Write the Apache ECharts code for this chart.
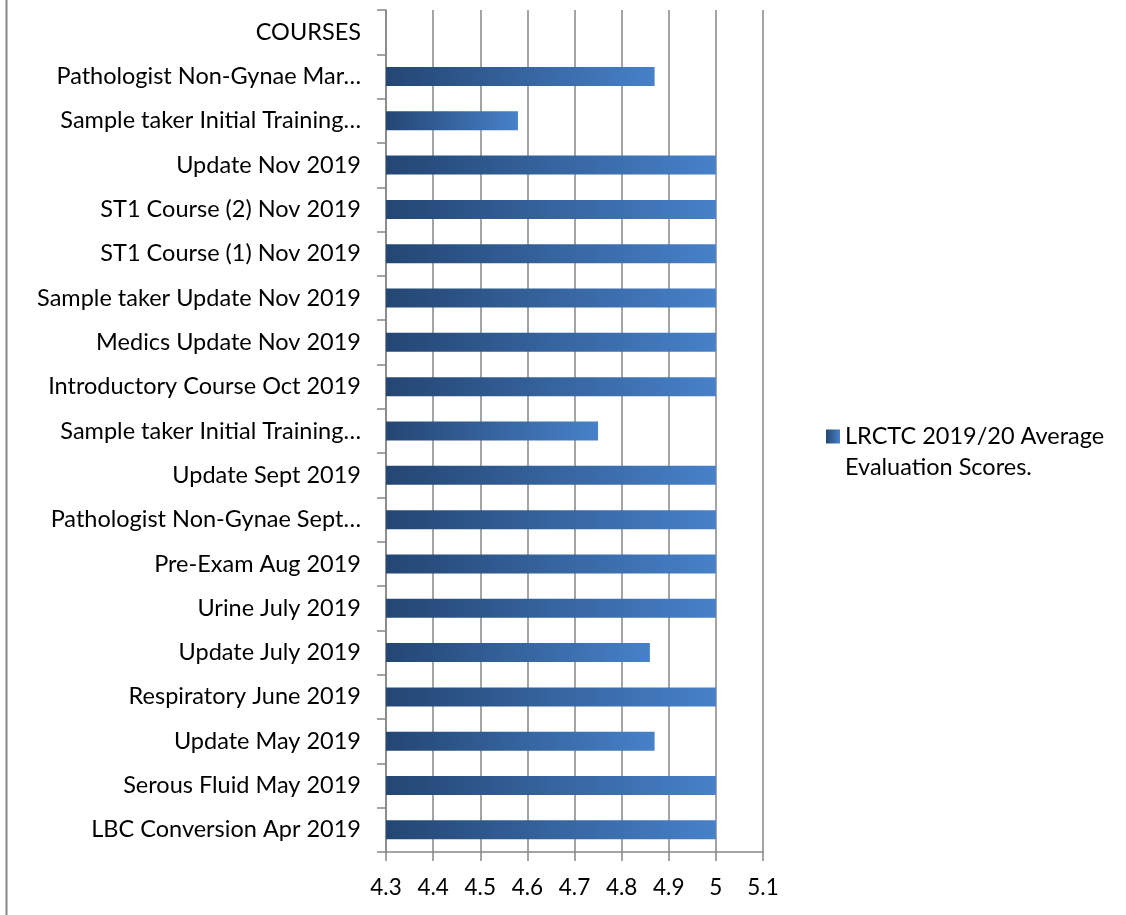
<!DOCTYPE html>
<html>
<head>
<meta charset="utf-8">
<script src="https://cdn.jsdelivr.net/npm/echarts@6/dist/echarts.min.js"></script>
<style>
html,body{margin:0;padding:0;background:#fff;}
#chart{width:1126px;height:915px;}
</style>
</head>
<body>
<div id="chart"></div>
<script>
const categories = [
  "LBC Conversion Apr 2019",
  "Serous Fluid May 2019",
  "Update May 2019",
  "Respiratory June 2019",
  "Update July 2019",
  "Urine July 2019",
  "Pre-Exam Aug 2019",
  "Pathologist Non-Gynae Sept…",
  "Update Sept 2019",
  "Sample taker Initial Training…",
  "Introductory Course Oct 2019",
  "Medics Update Nov 2019",
  "Sample taker Update Nov 2019",
  "ST1 Course (1) Nov 2019",
  "ST1 Course (2) Nov 2019",
  "Update Nov 2019",
  "Sample taker Initial Training…",
  "Pathologist Non-Gynae Mar…",
  "COURSES"
];
const scores = [5, 5, 4.87, 5, 4.86, 5, 5, 5, 5, 4.75, 5, 5, 5, 5, 5, 5, 4.58, 4.87, null];
const xTicks = [4.3, 4.4, 4.5, 4.6, 4.7, 4.8, 4.9, 5, 5.1];
const seriesName = "LRCTC 2019/20 Average Evaluation Scores.";
const legendLines = ["LRCTC 2019/20 Average", "Evaluation Scores."];

const chart = echarts.init(document.getElementById('chart'));
const FONT = 'Lato';
const grad = new echarts.graphic.LinearGradient(0, 0, 1, 0, [
  {offset: 0, color: '#244673'},
  {offset: 1, color: '#4781c9'}
]);
chart.setOption({
  animation: false,
  backgroundColor: '#fff',
  textStyle: {fontFamily: FONT},
  grid: {left: 386, right: 363, top: 10, bottom: 63, containLabel: false},
  legend: {
    left: 826, top: 390,
    padding: 0,
    orient: 'vertical',
    itemWidth: 14, itemHeight: 14,
    itemGap: 0,
    icon: 'rect',
    formatter: function () { return '\n' + legendLines.join('\n'); },
    textStyle: {fontSize: 23.5, color: '#000', fontFamily: FONT, lineHeight: 31},
    data: [seriesName]
  },
  xAxis: {
    type: 'value',
    min: xTicks[0], max: xTicks[xTicks.length - 1], interval: 0.1,
    axisLine: {show: true, lineStyle: {color: '#868686', width: 1.5}},
    axisTick: {show: true, length: 9, lineStyle: {color: '#868686', width: 1.5}},
    splitLine: {show: true, lineStyle: {color: '#868686', width: 1.5}},
    axisLabel: {
      fontSize: 22.5, color: '#000', margin: 24, fontFamily: FONT,
      formatter: function (v) { return String(Math.round(v * 10) / 10); }
    }
  },
  yAxis: {
    type: 'category',
    data: categories,
    axisLine: {show: true, lineStyle: {color: '#868686', width: 1.5}},
    axisTick: {show: true, length: 9, lineStyle: {color: '#868686', width: 1.5}},
    axisLabel: {fontSize: 23.5, color: '#000', margin: 25, fontFamily: FONT}
  },
  graphic: [{
    type: 'line', shape: {x1: 6.5, y1: 0, x2: 6.5, y2: 915},
    style: {stroke: '#868686', lineWidth: 2}, silent: true
  }],
  series: [{
    name: seriesName,
    type: 'bar',
    data: scores,
    barWidth: 19,
    itemStyle: {color: grad}
  }]
});
</script>
</body>
</html>
